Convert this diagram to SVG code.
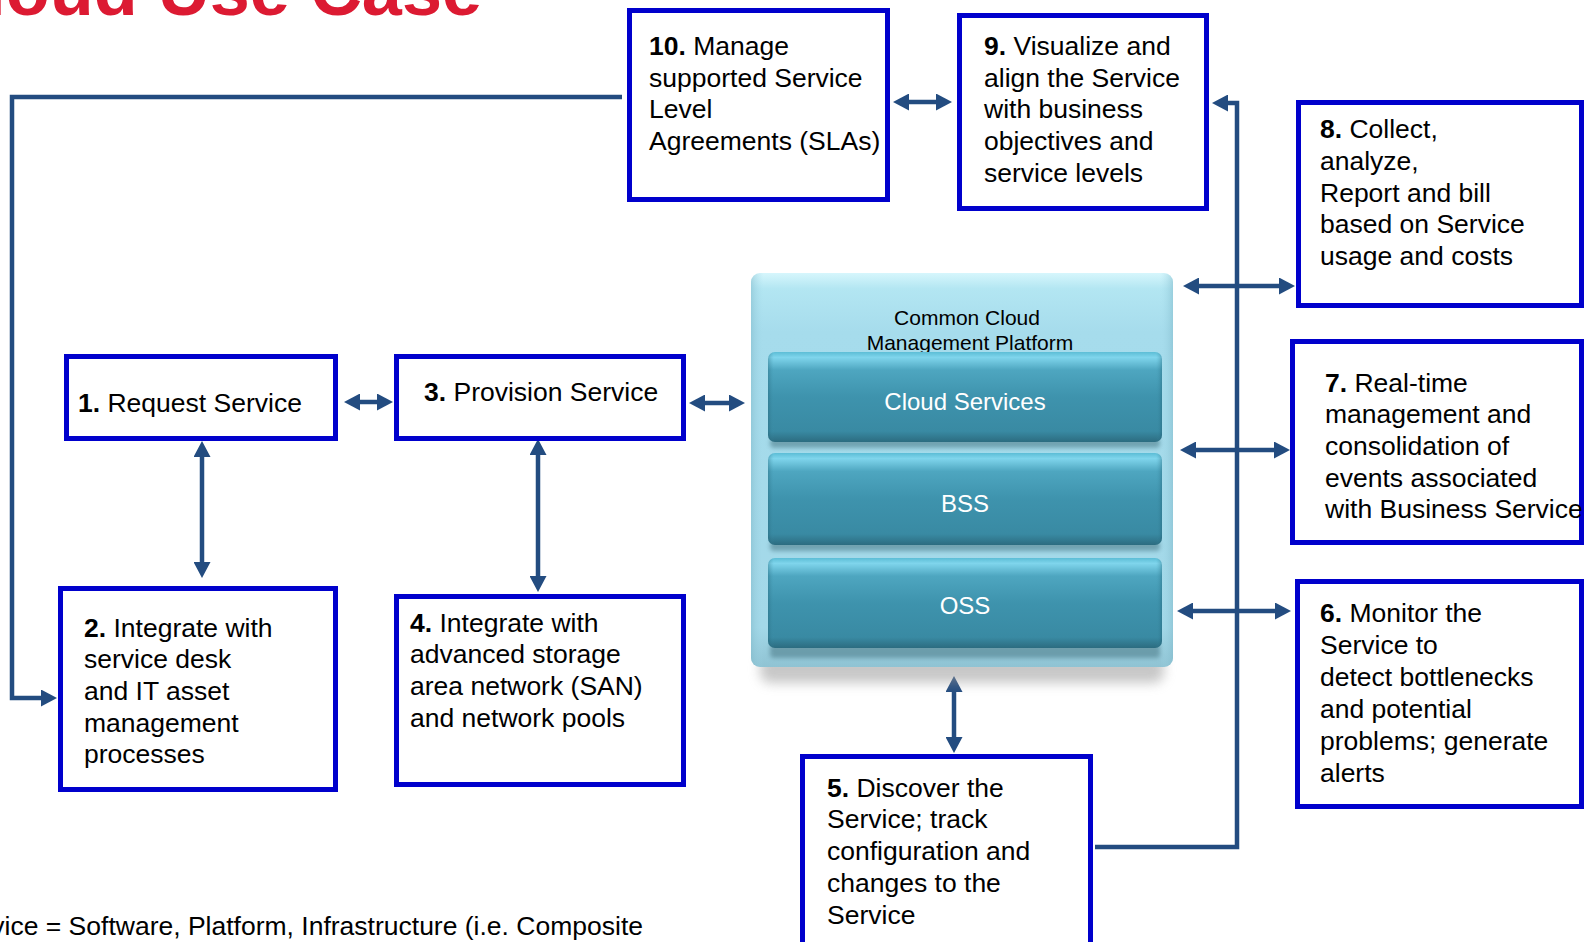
<svg xmlns="http://www.w3.org/2000/svg" width="1587" height="942" viewBox="0 0 1587 942">
<style>
.box{fill:#fff;stroke:#0000cc;stroke-width:5}
.t{font-family:"Liberation Sans",Arial,sans-serif;font-size:26.5px;fill:#000}
.b{font-weight:bold}
.con{fill:none;stroke:#234c80;stroke-width:4.5}
.bar{font-family:"Liberation Sans",Arial,sans-serif;font-size:24px;fill:#fff;text-anchor:middle}
.plt{font-family:"Liberation Sans",Arial,sans-serif;font-size:21px;fill:#000;text-anchor:middle}
</style>
<defs>
<marker id="ah" markerUnits="userSpaceOnUse" markerWidth="17" markerHeight="17" refX="4" refY="8.5" orient="auto-start-reverse" viewBox="0 0 17 17">
<path d="M0,0 L16,8.5 L0,17 Z" fill="#234c80"/>
</marker>
<linearGradient id="outer" x1="0" y1="0" x2="0" y2="1">
<stop offset="0" stop-color="#d6f6fc"/>
<stop offset="0.04" stop-color="#b3e6f2"/>
<stop offset="0.15" stop-color="#a6dcec"/>
<stop offset="0.9" stop-color="#a3d8e8"/>
<stop offset="1" stop-color="#8fc3d3"/>
</linearGradient>
<linearGradient id="outerSide" x1="0" y1="0" x2="1" y2="0">
<stop offset="0" stop-color="#7fb8c9" stop-opacity="0.5"/>
<stop offset="0.03" stop-color="#a6dcec" stop-opacity="0"/>
<stop offset="0.97" stop-color="#a6dcec" stop-opacity="0"/>
<stop offset="1" stop-color="#7fb8c9" stop-opacity="0.5"/>
</linearGradient>
<linearGradient id="barg" x1="0" y1="0" x2="0" y2="1">
<stop offset="0" stop-color="#5cbdd6"/>
<stop offset="0.06" stop-color="#7fd5ec"/>
<stop offset="0.2" stop-color="#4ea6c0"/>
<stop offset="0.5" stop-color="#3e93ad"/>
<stop offset="0.88" stop-color="#398aa3"/>
<stop offset="1" stop-color="#2c6c80"/>
</linearGradient>
<linearGradient id="barSide" x1="0" y1="0" x2="1" y2="0">
<stop offset="0" stop-color="#1f5a6c" stop-opacity="0.35"/>
<stop offset="0.015" stop-color="#3e93ad" stop-opacity="0"/>
<stop offset="0.985" stop-color="#3e93ad" stop-opacity="0"/>
<stop offset="1" stop-color="#1f5a6c" stop-opacity="0.35"/>
</linearGradient>
<filter id="blur" x="-10%" y="-50%" width="120%" height="200%">
<feGaussianBlur stdDeviation="6"/>
</filter>
<filter id="blur2" x="-5%" y="-50%" width="110%" height="200%">
<feGaussianBlur stdDeviation="2"/>
</filter>
</defs>

<text x="482" y="15" text-anchor="end" font-family="'Liberation Sans',Arial,sans-serif" font-weight="bold" font-size="72" fill="#dc1a32">Cloud Use Case</text>

<g id="connectors">
<path class="con" d="M622,97 H12 V698 H45" marker-end="url(#ah)"/>
<path class="con" d="M905,102 H940" marker-start="url(#ah)" marker-end="url(#ah)"/>
<path class="con" d="M1095,847 H1237 V103 H1224" marker-end="url(#ah)"/>
<path class="con" d="M1195,286 H1283" marker-start="url(#ah)" marker-end="url(#ah)"/>
<path class="con" d="M1192,450 H1278" marker-start="url(#ah)" marker-end="url(#ah)"/>
<path class="con" d="M1189,611 H1279" marker-start="url(#ah)" marker-end="url(#ah)"/>
<path class="con" d="M356,402 H381" marker-start="url(#ah)" marker-end="url(#ah)"/>
<path class="con" d="M701,403 H733" marker-start="url(#ah)" marker-end="url(#ah)"/>
<path class="con" d="M202,453 V566" marker-start="url(#ah)" marker-end="url(#ah)"/>
<path class="con" d="M538,451 V580" marker-start="url(#ah)" marker-end="url(#ah)"/>
<path class="con" d="M954,688 V741" marker-start="url(#ah)" marker-end="url(#ah)"/>
</g>

<g id="platform">
<rect x="760" y="655" width="404" height="28" rx="10" fill="#9a9a9a" opacity="0.55" filter="url(#blur)"/>
<rect x="751" y="273" width="422" height="394" rx="9" fill="url(#outer)"/>
<rect x="751" y="273" width="422" height="394" rx="9" fill="url(#outerSide)"/>
<text class="plt" x="967" y="325">Common Cloud</text>
<text class="plt" x="970" y="350">Management Platform</text>
<g id="bar-cloud">
<rect x="770" y="438" width="390" height="10" rx="4" fill="#4f7f8c" opacity="0.6" filter="url(#blur2)"/>
<rect x="768" y="352" width="394" height="90" rx="7" fill="url(#barg)"/>
<rect x="768" y="352" width="394" height="90" rx="7" fill="url(#barSide)"/>
<text class="bar" x="965" y="410">Cloud Services</text>
</g>
<g id="bar-bss">
<rect x="770" y="541" width="390" height="10" rx="4" fill="#4f7f8c" opacity="0.6" filter="url(#blur2)"/>
<rect x="768" y="453" width="394" height="92" rx="7" fill="url(#barg)"/>
<rect x="768" y="453" width="394" height="92" rx="7" fill="url(#barSide)"/>
<text class="bar" x="965" y="512">BSS</text>
</g>
<g id="bar-oss">
<rect x="770" y="644" width="390" height="14" rx="4" fill="#4f7f8c" opacity="0.6" filter="url(#blur2)"/>
<rect x="768" y="558" width="394" height="90" rx="7" fill="url(#barg)"/>
<rect x="768" y="558" width="394" height="90" rx="7" fill="url(#barSide)"/>
<text class="bar" x="965" y="614">OSS</text>
</g>
</g>

<g id="n10">
<rect class="box" x="629.5" y="10.5" width="258" height="189"/>
<text class="t" x="649" y="55"><tspan class="b">10.</tspan> Manage</text>
<text class="t" x="649" y="87">supported Service</text>
<text class="t" x="649" y="118">Level</text>
<text class="t" x="649" y="150">Agreements (SLAs)</text>
</g>
<g id="n9">
<rect class="box" x="959.5" y="15.5" width="247" height="193"/>
<text class="t" x="984" y="55"><tspan class="b">9.</tspan> Visualize and</text>
<text class="t" x="984" y="87">align the Service</text>
<text class="t" x="984" y="118">with business</text>
<text class="t" x="984" y="150">objectives and</text>
<text class="t" x="984" y="182">service levels</text>
</g>
<g id="n8">
<rect class="box" x="1298.5" y="102.5" width="283" height="203"/>
<text class="t" x="1320" y="138"><tspan class="b">8.</tspan> Collect,</text>
<text class="t" x="1320" y="170">analyze,</text>
<text class="t" x="1320" y="202">Report and bill</text>
<text class="t" x="1320" y="233">based on Service</text>
<text class="t" x="1320" y="265">usage and costs</text>
</g>
<g id="n7">
<rect class="box" x="1292.5" y="341.5" width="289" height="201"/>
<text class="t" x="1325" y="392"><tspan class="b">7.</tspan> Real-time</text>
<text class="t" x="1325" y="423">management and</text>
<text class="t" x="1325" y="455">consolidation of</text>
<text class="t" x="1325" y="487">events associated</text>
<text class="t" x="1325" y="518">with Business Service</text>
</g>
<g id="n6">
<rect class="box" x="1297.5" y="581.5" width="284" height="225"/>
<text class="t" x="1320" y="622"><tspan class="b">6.</tspan> Monitor the</text>
<text class="t" x="1320" y="654">Service to</text>
<text class="t" x="1320" y="686">detect bottlenecks</text>
<text class="t" x="1320" y="718">and potential</text>
<text class="t" x="1320" y="750">problems; generate</text>
<text class="t" x="1320" y="782">alerts</text>
</g>
<g id="n5">
<rect class="box" x="802.5" y="756.5" width="288" height="200"/>
<text class="t" x="827" y="797"><tspan class="b">5.</tspan> Discover the</text>
<text class="t" x="827" y="828">Service; track</text>
<text class="t" x="827" y="860">configuration and</text>
<text class="t" x="827" y="892">changes to the</text>
<text class="t" x="827" y="924">Service</text>
</g>
<g id="n1">
<rect class="box" x="66.5" y="356.5" width="269" height="82"/>
<text class="t" x="78" y="412"><tspan class="b">1.</tspan> Request Service</text>
</g>
<g id="n3">
<rect class="box" x="396.5" y="356.5" width="287" height="82"/>
<text class="t" x="424" y="401"><tspan class="b">3.</tspan> Provision Service</text>
</g>
<g id="n2">
<rect class="box" x="60.5" y="588.5" width="275" height="201"/>
<text class="t" x="84" y="637"><tspan class="b">2.</tspan> Integrate with</text>
<text class="t" x="84" y="668">service desk</text>
<text class="t" x="84" y="700">and IT asset</text>
<text class="t" x="84" y="732">management</text>
<text class="t" x="84" y="763">processes</text>
</g>
<g id="n4">
<rect class="box" x="396.5" y="596.5" width="287" height="188"/>
<text class="t" x="410" y="632"><tspan class="b">4.</tspan> Integrate with</text>
<text class="t" x="410" y="663">advanced storage</text>
<text class="t" x="410" y="695">area network (SAN)</text>
<text class="t" x="410" y="727">and network pools</text>
</g>

<text class="t" x="643" y="935" text-anchor="end">vice = Software, Platform, Infrastructure (i.e. Composite</text>
</svg>
